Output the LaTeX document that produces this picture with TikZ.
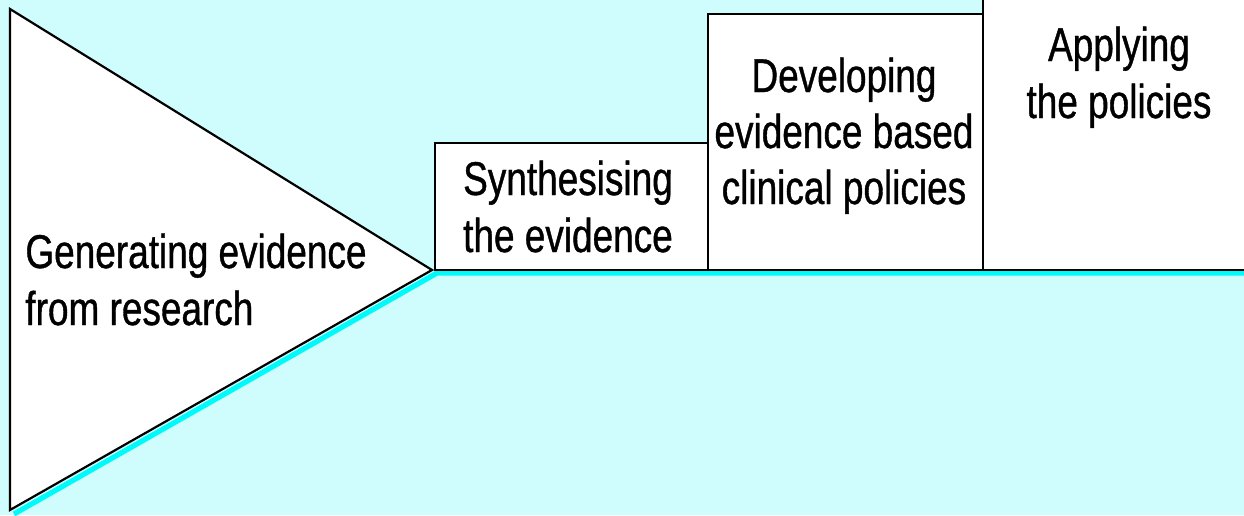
\documentclass[tikz,border=0pt]{standalone}
\usepackage{fontspec}
\setmainfont[FakeStretch=0.78,FakeBold=0.8]{Liberation Sans}
\definecolor{bgcyan}{RGB}{207,252,252}
\definecolor{shadowcyan}{RGB}{0,250,250}
\tikzset{
  figshape/.style={draw=black, fill=white, line width=1.1pt, line join=miter},
  shadowline/.style={draw=shadowcyan, line width=2.6pt},
  txt/.style={inner sep=0pt, align=center, font=\fontsize{23.7pt}{28.5pt}\selectfont},
}
\begin{document}
\begin{tikzpicture}[x=0.5pt,y=-0.5pt]
\useasboundingbox (0,0) rectangle (1244,515);
\clip (0,0) rectangle (1244,515);
\fill[bgcyan] (0,0) rectangle (1244,515);
% shadow
\draw[shadowline] (14,514) -- (437,273) -- (1250,273);
% triangle
\draw[figshape] (10,9) -- (432,270) -- (10,510) -- cycle;
% boxes
\draw[figshape] (435,143) rectangle (708,270);
\draw[figshape] (708,14) rectangle (983,270);
\draw[figshape] (983,-20) rectangle (1260,270);
% texts (base anchor = baseline of the last line)
\node[txt, align=left, anchor=base west] (gen) at (25,325) {Generating evidence\\from research};
\node[txt, anchor=base] (syn) at (568,252) {Synthesising\\the evidence};
\node[txt, anchor=base, font=\fontsize{23.7pt}{28pt}\selectfont] (dev) at (844,204) {Developing\\evidence based\\clinical policies};
\node[txt, anchor=base] (app) at (1119,118) {Applying\\the policies};
\end{tikzpicture}
\end{document}
